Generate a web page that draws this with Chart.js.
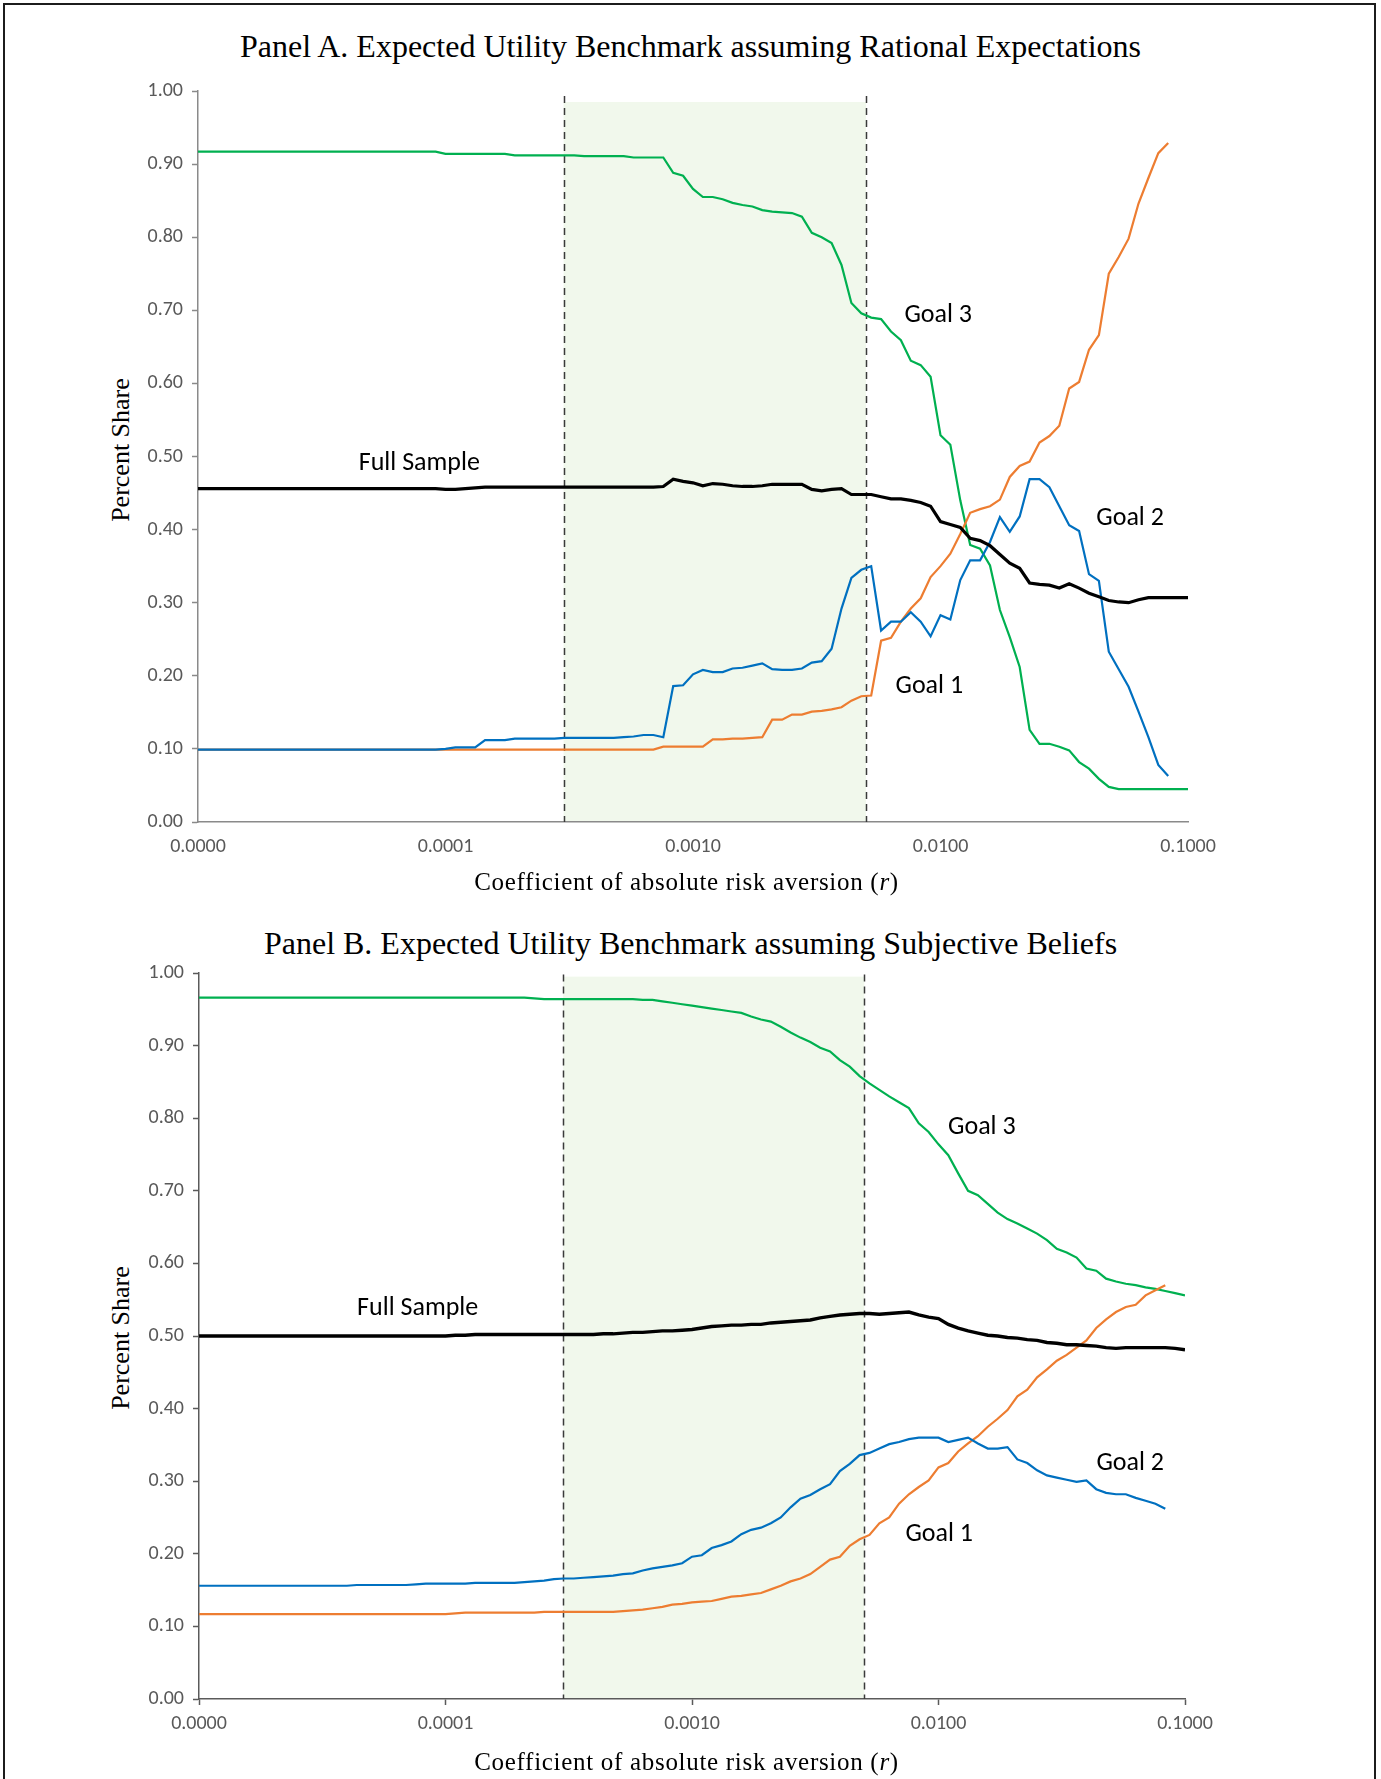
<!DOCTYPE html>
<html>
<head>
<meta charset="utf-8">
<script src="https://cdn.jsdelivr.net/npm/chart.js@4.4.1/dist/chart.umd.min.js"></script>
<style>
  html, body { margin: 0; padding: 0; background: #fff; }
  body { width: 1381px; height: 1779px; position: relative; overflow: hidden; }
  .frame { position: absolute; left: 3px; top: 3px; width: 1373px; height: 1820px;
           border: 2px solid #1c1c1c; box-sizing: border-box; }
  .ptitle { position: absolute; left: 0; width: 1381px; text-align: center; white-space: nowrap;
            font-family: 'Liberation Serif', 'Times New Roman', serif; font-size: 32px; line-height: 32px; color: #000; }
  .xtitle { position: absolute; left: 0; width: 1373px; text-align: center; white-space: nowrap;
            font-family: 'Liberation Serif', 'Times New Roman', serif; font-size: 25px; line-height: 25px;
            letter-spacing: 0.7px; color: #000; }
  .ytitle { position: absolute; width: 300px; height: 26px; text-align: center; white-space: nowrap;
            font-family: 'Liberation Serif', 'Times New Roman', serif; font-size: 26px; line-height: 26px; color: #000;
            transform: rotate(-90deg); transform-origin: 50% 50%; }
  .panel { position: absolute; left: 0; width: 1381px; }
  canvas { display: block; }
</style>
</head>
<body>
<div class="frame"></div>

<div class="ptitle" style="top:30px">Panel A. Expected Utility Benchmark assuming Rational Expectations</div>
<div class="ytitle" style="left:-29px; top:437px">Percent Share</div>
<div class="panel" style="top:0; height:900px"><canvas id="chartA" width="1381" height="900"></canvas></div>
<div class="xtitle" style="top:869px">Coefficient of absolute risk aversion (<i>r</i>)</div>

<div class="ptitle" style="top:927px">Panel B. Expected Utility Benchmark assuming Subjective Beliefs</div>
<div class="ytitle" style="left:-29px; top:1325px">Percent Share</div>
<div class="panel" style="top:900px; height:879px"><canvas id="chartB" width="1381" height="879"></canvas></div>
<div class="xtitle" style="top:1749px">Coefficient of absolute risk aversion (<i>r</i>)</div>

<script>
// Coefficient of absolute risk aversion r: grid shared by every series (0.04-decade steps)
const rGrid = [
  1.000e-5, 1.096e-5, 1.202e-5, 1.318e-5, 1.445e-5, 1.585e-5, 1.738e-5, 1.905e-5, 2.089e-5, 2.291e-5,
  2.512e-5, 2.754e-5, 3.020e-5, 3.311e-5, 3.631e-5, 3.981e-5, 4.365e-5, 4.786e-5, 5.248e-5, 5.754e-5,
  6.310e-5, 6.918e-5, 7.586e-5, 8.318e-5, 9.120e-5,
  1.000e-4, 1.096e-4, 1.202e-4, 1.318e-4, 1.445e-4, 1.585e-4, 1.738e-4, 1.905e-4, 2.089e-4, 2.291e-4,
  2.512e-4, 2.754e-4, 3.020e-4, 3.311e-4, 3.631e-4, 3.981e-4, 4.365e-4, 4.786e-4, 5.248e-4, 5.754e-4,
  6.310e-4, 6.918e-4, 7.586e-4, 8.318e-4, 9.120e-4,
  1.000e-3, 1.096e-3, 1.202e-3, 1.318e-3, 1.445e-3, 1.585e-3, 1.738e-3, 1.905e-3, 2.089e-3, 2.291e-3,
  2.512e-3, 2.754e-3, 3.020e-3, 3.311e-3, 3.631e-3, 3.981e-3, 4.365e-3, 4.786e-3, 5.248e-3, 5.754e-3,
  6.310e-3, 6.918e-3, 7.586e-3, 8.318e-3, 9.120e-3,
  1.000e-2, 1.096e-2, 1.202e-2, 1.318e-2, 1.445e-2, 1.585e-2, 1.738e-2, 1.905e-2, 2.089e-2, 2.291e-2,
  2.512e-2, 2.754e-2, 3.020e-2, 3.311e-2, 3.631e-2, 3.981e-2, 4.365e-2, 4.786e-2, 5.248e-2, 5.754e-2,
  6.310e-2, 6.918e-2, 7.586e-2, 8.318e-2, 9.120e-2,
  1.000e-1
];

// Axis ticks
const xTickValues = [1e-5, 1e-4, 1e-3, 1e-2, 1e-1];
const xTickLabels = ['0.0000', '0.0001', '0.0010', '0.0100', '0.1000'];
const yTickLabels = ['0.00', '0.10', '0.20', '0.30', '0.40', '0.50', '0.60', '0.70', '0.80', '0.90', '1.00'];

// Calibration band of r
const bandR = [0.0003, 0.005];

// Panel A: rational expectations
const aFullSample = [
  0.456, 0.456, 0.456, 0.456, 0.456, 0.456, 0.456, 0.456, 0.456, 0.456,
  0.456, 0.456, 0.456, 0.456, 0.456, 0.456, 0.456, 0.456, 0.456, 0.456,
  0.456, 0.456, 0.456, 0.456, 0.456, 0.455, 0.455, 0.456, 0.457, 0.458,
  0.458, 0.458, 0.458, 0.458, 0.458, 0.458, 0.458, 0.458, 0.458, 0.458,
  0.458, 0.458, 0.458, 0.458, 0.458, 0.458, 0.458, 0.459, 0.469, 0.466,
  0.464, 0.460, 0.463, 0.462, 0.460, 0.459, 0.459, 0.460, 0.462, 0.462,
  0.462, 0.462, 0.455, 0.453, 0.455, 0.456, 0.448, 0.448, 0.448, 0.445,
  0.442, 0.442, 0.440, 0.437, 0.432, 0.411, 0.407, 0.403, 0.388, 0.385,
  0.378, 0.366, 0.354, 0.347, 0.327, 0.325, 0.324, 0.320, 0.326, 0.320,
  0.313, 0.308, 0.303, 0.301, 0.300, 0.304, 0.307, 0.307, 0.307, 0.307,
  0.307
];
const aGoal1 = [
  0.099, 0.099, 0.099, 0.099, 0.099, 0.099, 0.099, 0.099, 0.099, 0.099,
  0.099, 0.099, 0.099, 0.099, 0.099, 0.099, 0.099, 0.099, 0.099, 0.099,
  0.099, 0.099, 0.099, 0.099, 0.099, 0.099, 0.099, 0.099, 0.099, 0.099,
  0.099, 0.099, 0.099, 0.099, 0.099, 0.099, 0.099, 0.099, 0.099, 0.099,
  0.099, 0.099, 0.099, 0.099, 0.099, 0.099, 0.099, 0.103, 0.103, 0.103,
  0.103, 0.103, 0.113, 0.113, 0.114, 0.114, 0.115, 0.116, 0.140, 0.140,
  0.147, 0.147, 0.151, 0.152, 0.154, 0.157, 0.166, 0.172, 0.173, 0.248,
  0.252, 0.274, 0.292, 0.306, 0.335, 0.350, 0.367, 0.394, 0.423, 0.428,
  0.432, 0.441, 0.472, 0.487, 0.493, 0.519, 0.528, 0.542, 0.593, 0.602,
  0.646, 0.666, 0.750, 0.773, 0.798, 0.846, 0.881, 0.915, 0.929, null,
  null
];
const aGoal2 = [
  0.099, 0.099, 0.099, 0.099, 0.099, 0.099, 0.099, 0.099, 0.099, 0.099,
  0.099, 0.099, 0.099, 0.099, 0.099, 0.099, 0.099, 0.099, 0.099, 0.099,
  0.099, 0.099, 0.099, 0.099, 0.099, 0.100, 0.102, 0.102, 0.102, 0.112,
  0.112, 0.112, 0.114, 0.114, 0.114, 0.114, 0.114, 0.115, 0.115, 0.115,
  0.115, 0.115, 0.115, 0.116, 0.117, 0.119, 0.119, 0.116, 0.186, 0.187,
  0.202, 0.208, 0.205, 0.205, 0.210, 0.211, 0.214, 0.217, 0.209, 0.208,
  0.208, 0.210, 0.218, 0.220, 0.237, 0.292, 0.334, 0.345, 0.350, 0.262,
  0.274, 0.274, 0.287, 0.274, 0.254, 0.283, 0.277, 0.331, 0.358, 0.358,
  0.383, 0.417, 0.397, 0.418, 0.469, 0.469, 0.458, 0.432, 0.406, 0.398,
  0.339, 0.330, 0.233, 0.209, 0.185, 0.151, 0.116, 0.078, 0.063, null,
  null
];
const aGoal3 = [
  0.917, 0.917, 0.917, 0.917, 0.917, 0.917, 0.917, 0.917, 0.917, 0.917,
  0.917, 0.917, 0.917, 0.917, 0.917, 0.917, 0.917, 0.917, 0.917, 0.917,
  0.917, 0.917, 0.917, 0.917, 0.917, 0.914, 0.914, 0.914, 0.914, 0.914,
  0.914, 0.914, 0.912, 0.912, 0.912, 0.912, 0.912, 0.912, 0.912, 0.911,
  0.911, 0.911, 0.911, 0.911, 0.909, 0.909, 0.909, 0.909, 0.888, 0.884,
  0.866, 0.855, 0.855, 0.852, 0.847, 0.844, 0.842, 0.837, 0.835, 0.834,
  0.833, 0.828, 0.806, 0.800, 0.792, 0.762, 0.710, 0.696, 0.690, 0.688,
  0.671, 0.659, 0.631, 0.625, 0.609, 0.529, 0.516, 0.440, 0.379, 0.374,
  0.351, 0.290, 0.253, 0.212, 0.126, 0.107, 0.107, 0.103, 0.098, 0.082,
  0.073, 0.059, 0.048, 0.045, 0.045, 0.045, 0.045, 0.045, 0.045, 0.045,
  0.045
];

// Panel B: subjective beliefs
const bFullSample = [
  0.500, 0.500, 0.500, 0.500, 0.500, 0.500, 0.500, 0.500, 0.500, 0.500,
  0.500, 0.500, 0.500, 0.500, 0.500, 0.500, 0.500, 0.500, 0.500, 0.500,
  0.500, 0.500, 0.500, 0.500, 0.500, 0.500, 0.501, 0.501, 0.502, 0.502,
  0.502, 0.502, 0.502, 0.502, 0.502, 0.502, 0.502, 0.502, 0.502, 0.502,
  0.502, 0.503, 0.503, 0.504, 0.505, 0.505, 0.506, 0.507, 0.507, 0.508,
  0.509, 0.511, 0.513, 0.514, 0.515, 0.515, 0.516, 0.516, 0.518, 0.519,
  0.520, 0.521, 0.522, 0.525, 0.527, 0.529, 0.530, 0.531, 0.531, 0.530,
  0.531, 0.532, 0.533, 0.529, 0.526, 0.524, 0.516, 0.511, 0.507, 0.504,
  0.501, 0.500, 0.498, 0.497, 0.495, 0.494, 0.491, 0.490, 0.488, 0.488,
  0.487, 0.486, 0.484, 0.483, 0.484, 0.484, 0.484, 0.484, 0.484, 0.483,
  0.481
];
const bGoal1 = [
  0.117, 0.117, 0.117, 0.117, 0.117, 0.117, 0.117, 0.117, 0.117, 0.117,
  0.117, 0.117, 0.117, 0.117, 0.117, 0.117, 0.117, 0.117, 0.117, 0.117,
  0.117, 0.117, 0.117, 0.117, 0.117, 0.117, 0.118, 0.119, 0.119, 0.119,
  0.119, 0.119, 0.119, 0.119, 0.119, 0.120, 0.120, 0.120, 0.120, 0.120,
  0.120, 0.120, 0.120, 0.121, 0.122, 0.123, 0.125, 0.127, 0.130, 0.131,
  0.133, 0.134, 0.135, 0.138, 0.141, 0.142, 0.144, 0.146, 0.151, 0.156,
  0.162, 0.166, 0.172, 0.182, 0.192, 0.196, 0.211, 0.220, 0.226, 0.242,
  0.250, 0.269, 0.282, 0.292, 0.301, 0.319, 0.325, 0.341, 0.352, 0.362,
  0.375, 0.386, 0.398, 0.417, 0.426, 0.443, 0.454, 0.466, 0.474, 0.484,
  0.494, 0.511, 0.523, 0.533, 0.540, 0.543, 0.556, 0.563, 0.570, null,
  null
];
const bGoal2 = [
  0.156, 0.156, 0.156, 0.156, 0.156, 0.156, 0.156, 0.156, 0.156, 0.156,
  0.156, 0.156, 0.156, 0.156, 0.156, 0.156, 0.157, 0.157, 0.157, 0.157,
  0.157, 0.157, 0.158, 0.159, 0.159, 0.159, 0.159, 0.159, 0.160, 0.160,
  0.160, 0.160, 0.160, 0.161, 0.162, 0.163, 0.165, 0.166, 0.166, 0.167,
  0.168, 0.169, 0.170, 0.172, 0.173, 0.177, 0.180, 0.182, 0.184, 0.187,
  0.196, 0.198, 0.208, 0.212, 0.217, 0.227, 0.233, 0.236, 0.242, 0.250,
  0.264, 0.276, 0.281, 0.289, 0.296, 0.314, 0.324, 0.336, 0.339, 0.345,
  0.351, 0.354, 0.358, 0.360, 0.360, 0.360, 0.354, 0.357, 0.360, 0.352,
  0.345, 0.345, 0.347, 0.330, 0.325, 0.315, 0.308, 0.305, 0.302, 0.299,
  0.301, 0.289, 0.284, 0.282, 0.282, 0.277, 0.273, 0.269, 0.262, null,
  null
];
const bGoal3 = [
  0.966, 0.966, 0.966, 0.966, 0.966, 0.966, 0.966, 0.966, 0.966, 0.966,
  0.966, 0.966, 0.966, 0.966, 0.966, 0.966, 0.966, 0.966, 0.966, 0.966,
  0.966, 0.966, 0.966, 0.966, 0.966, 0.966, 0.966, 0.966, 0.966, 0.966,
  0.966, 0.966, 0.966, 0.966, 0.965, 0.964, 0.964, 0.964, 0.964, 0.964,
  0.964, 0.964, 0.964, 0.964, 0.964, 0.963, 0.963, 0.961, 0.959, 0.957,
  0.955, 0.953, 0.951, 0.949, 0.947, 0.945, 0.940, 0.936, 0.933, 0.926,
  0.918, 0.911, 0.905, 0.897, 0.892, 0.880, 0.871, 0.858, 0.848, 0.839,
  0.830, 0.822, 0.814, 0.793, 0.781, 0.764, 0.749, 0.724, 0.700, 0.694,
  0.682, 0.670, 0.661, 0.655, 0.648, 0.641, 0.632, 0.620, 0.615, 0.608,
  0.593, 0.590, 0.579, 0.575, 0.572, 0.570, 0.567, 0.565, 0.562, 0.559,
  0.556
];

// Series names and colours
const seriesNames = ['Full Sample', 'Goal 1', 'Goal 2', 'Goal 3'];
const seriesColors = ['#000000', '#ed7d31', '#0070c0', '#00b050'];

// Curve annotations (anchored at r, share = text baseline)
const labelsA = [
  { text: 'Full Sample', r: 4.46e-5, v: 0.482 },
  { text: 'Goal 3', r: 0.00715, v: 0.684 },
  { text: 'Goal 2', r: 0.0426, v: 0.406 },
  { text: 'Goal 1', r: 0.00658, v: 0.177 }
];
const labelsB = [
  { text: 'Full Sample', r: 4.38e-5, v: 0.529 },
  { text: 'Goal 3', r: 0.01093, v: 0.778 },
  { text: 'Goal 2', r: 0.0437, v: 0.315 },
  { text: 'Goal 1', r: 0.00734, v: 0.218 }
];

const sansFamily = 'Carlito, Lato, "Liberation Sans", sans-serif';

// Shaded band, dashed bounds and curve labels
const decor = {
  id: 'decor',
  beforeDatasetsDraw(chart, args, opts) {
    const { ctx, chartArea: a, scales: { x, y } } = chart;
    const x0 = x.getPixelForValue(opts.band[0]);
    const x1 = x.getPixelForValue(opts.band[1]);
    const ys = y.getPixelForValue(opts.shadeTop);
    const yd = y.getPixelForValue(opts.dashTop);
    ctx.save();
    ctx.fillStyle = '#f1f8ec';
    ctx.fillRect(x0, ys, x1 - x0, a.bottom - 1 - ys);
    ctx.strokeStyle = '#3a3a3a';
    ctx.lineWidth = 1.5;
    ctx.setLineDash([7, 5]);
    [x0, x1].forEach(px => {
      ctx.beginPath();
      ctx.moveTo(Math.round(px) + 0.5, yd);
      ctx.lineTo(Math.round(px) + 0.5, a.bottom);
      ctx.stroke();
    });
    ctx.restore();
  },
  afterDatasetsDraw(chart, args, opts) {
    const { ctx, scales: { x, y } } = chart;
    ctx.save();
    ctx.font = '26px ' + sansFamily;
    ctx.fillStyle = '#000';
    ctx.textAlign = 'left';
    ctx.textBaseline = 'alphabetic';
    opts.labels.forEach(l => ctx.fillText(l.text, x.getPixelForValue(l.r), y.getPixelForValue(l.v)));
    ctx.restore();
  }
};

function buildChart(id, series, cfg) {
  const datasets = series.map((vals, i) => ({
    label: seriesNames[i],
    data: vals.map((v, k) => ({ x: rGrid[k], y: v })),
    borderColor: seriesColors[i],
    borderWidth: i === 0 ? cfg.blackWidth : 2.2,
    pointRadius: 0,
    tension: 0,
    fill: false,
    spanGaps: false
  }));
  // Full Sample on top, then Goal 2, Goal 1, Goal 3
  const ordered = [datasets[0], datasets[2], datasets[1], datasets[3]];
  return new Chart(document.getElementById(id), {
    type: 'line',
    data: { datasets: ordered },
    options: {
      responsive: false,
      animation: false,
      events: [],
      layout: { padding: { top: cfg.padTop, left: 0, right: cfg.padRight, bottom: 0 } },
      plugins: {
        legend: { display: false },
        title: { display: false },
        tooltip: { enabled: false },
        decor: { band: bandR, shadeTop: cfg.shadeTop, dashTop: cfg.dashTop, labels: cfg.labels }
      },
      scales: {
        x: {
          type: 'logarithmic',
          min: 1e-5,
          max: 0.1,
          afterBuildTicks: s => { s.ticks = xTickValues.map(v => ({ value: v })); },
          afterFit: s => { s.height = cfg.xHeight; },
          ticks: {
            autoSkip: false, maxRotation: 0, padding: 7,
            color: '#595959',
            font: { family: sansFamily, size: 20 },
            callback: (v, i) => xTickLabels[i]
          },
          grid: { display: true, drawOnChartArea: false, drawTicks: true, tickLength: 6,
                  tickColor: cfg.xTickColor, tickWidth: 1.5, color: cfg.axisColor },
          border: { display: true, color: cfg.axisColor, width: 1.5 }
        },
        y: {
          type: 'linear',
          min: 0,
          max: 1,
          afterFit: s => { s.width = cfg.yWidth; },
          ticks: {
            stepSize: 0.1, padding: 9,
            color: '#595959',
            font: { family: sansFamily, size: 20 },
            callback: (v, i) => yTickLabels[i]
          },
          grid: { display: true, drawOnChartArea: false, drawTicks: true, tickLength: 6,
                  tickColor: cfg.axisColor, tickWidth: 1.5, color: cfg.axisColor },
          border: { display: true, color: cfg.axisColor, width: 1.5 }
        }
      }
    },
    plugins: [decor]
  });
}

buildChart('chartA', [aFullSample, aGoal1, aGoal2, aGoal3], {
  padTop: 91, padRight: 193, xHeight: 78, yWidth: 198, blackWidth: 3.2,
  axisColor: '#8a8a8a', xTickColor: 'rgba(0,0,0,0)',
  shadeTop: 0.985, dashTop: 0.993, labels: labelsA
});

buildChart('chartB', [bFullSample, bGoal1, bGoal2, bGoal3], {
  padTop: 73, padRight: 196, xHeight: 80, yWidth: 199, blackWidth: 3.4,
  axisColor: '#5a5a5a', xTickColor: '#5a5a5a',
  shadeTop: 0.995, dashTop: 0.998, labels: labelsB
});
</script>
</body>
</html>
